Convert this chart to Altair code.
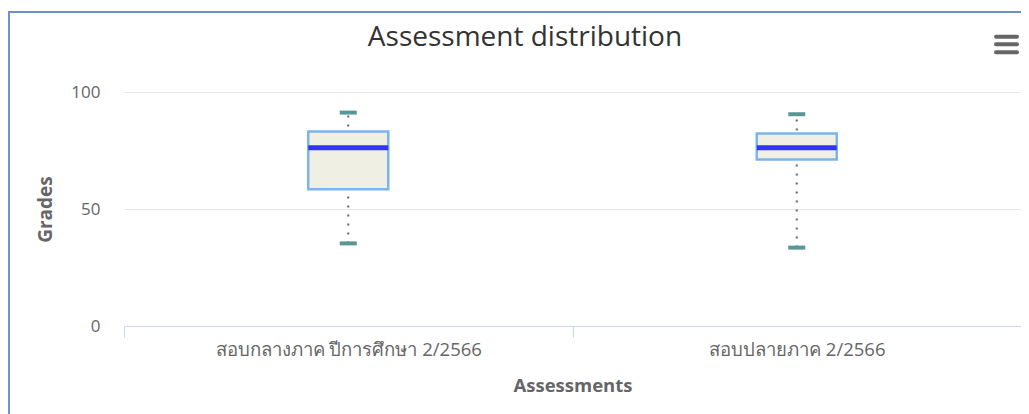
import altair as alt
import pandas as pd

categories = ["สอบกลางภาค ปีการศึกษา 2/2566", "สอบปลายภาค 2/2566"]
low = [35.3, 33.5]
q1 = [58.4, 71.2]
median = [76.2, 76.2]
q3 = [83.1, 82.3]
high = [91.2, 90.5]

y_ticks = [0, 50, 100]

df = pd.DataFrame({
    "category": categories,
    "low": low,
    "q1": q1,
    "median": median,
    "q3": q3,
    "high": high,
})

W, H = 897, 234
LABEL_FONT = "Open Sans"

yscale = alt.Scale(domain=[0, 100], nice=False, zero=True)
xenc = alt.X(
    "category:N",
    sort=categories,
    scale=alt.Scale(paddingInner=0, paddingOuter=0),
    axis=alt.Axis(
        title="Assessments",
        labelAngle=0,
        labelFont=LABEL_FONT,
        labelFontSize=18.5,
        labelColor="#666666",
        labelPadding=3,
        labelLimit=0,
        tickBand="extent",
        tickSize=11,
        tickColor="#ccd6eb",
        domainColor="#ccd6eb",
        grid=False,
        titleFont=LABEL_FONT,
        titleFontSize=18.5,
        titleFontWeight="bold",
        titleColor="#666666",
        titleY=59,
        titleBaseline="middle",
    ),
)

base = alt.Chart(df).encode(x=xenc)

whisker = base.mark_rule(strokeDash=[2, 7], strokeWidth=2, color="#666666").encode(
    y=alt.Y(
        "low:Q",
        scale=yscale,
        axis=alt.Axis(
            title="Grades",
            values=y_ticks,
            labelFont=LABEL_FONT,
            labelFontSize=17,
            labelColor="#666666",
            labelPadding=24,
            ticks=False,
            domain=False,
            grid=True,
            gridColor="#e6e6e6",
            titleFont=LABEL_FONT,
            titleFontSize=19,
            titleFontWeight="bold",
            titleColor="#666666",
            titleX=-79,
            titleY=117,
            titleAngle=-90,
            titleAlign="center",
            titleBaseline="middle",
        ),
    ),
    y2="high:Q",
)

box = base.mark_bar(size=80, fill="#efefe3", stroke="#7cb5ec", strokeWidth=2.5, opacity=1).encode(
    y=alt.Y("q1:Q", scale=yscale), y2="q3:Q"
)
med = base.mark_tick(size=80, thickness=5, color="#3333ff", orient="horizontal", opacity=1).encode(
    y=alt.Y("median:Q", scale=yscale)
)
cap_low = base.mark_tick(size=17, thickness=4, color="#5a9696", orient="horizontal", opacity=1).encode(
    y=alt.Y("low:Q", scale=yscale)
)
cap_high = base.mark_tick(size=17, thickness=4, color="#5a9696", orient="horizontal", opacity=1).encode(
    y=alt.Y("high:Q", scale=yscale)
)

deco = alt.Chart(pd.DataFrame({"a": [0]}))
border_top = deco.mark_rule(color="#7090cc", strokeWidth=2).encode(
    x=alt.value(-116), x2=alt.value(W + 20), y=alt.value(-80)
)
border_left = deco.mark_rule(color="#7090cc", strokeWidth=2).encode(
    x=alt.value(-115), y=alt.value(-81), y2=alt.value(H + 100)
)
title = deco.mark_text(
    text="Assessment distribution",
    font="Open Sans",
    fontSize=28,
    color="#333333",
    align="center",
    baseline="middle",
).encode(x=alt.value(401), y=alt.value(-54))

menu = []
for yy in [-55.3, -47.7, -39.7]:
    menu.append(
        deco.mark_rule(color="#666666", strokeWidth=4, strokeCap="round").encode(
            x=alt.value(872), x2=alt.value(893), y=alt.value(yy)
        )
    )

chart = alt.layer(
    whisker, box, med, cap_low, cap_high, border_top, border_left, title, *menu
).properties(
    width=W,
    height=H,
    padding={"left": 116, "top": 84, "right": 0, "bottom": 88},
    autosize=alt.AutoSizeParams(type="none"),
    background="white",
).configure_view(stroke=None)

chart.save("out.html", embed_options={"renderer": "svg", "actions": False})
